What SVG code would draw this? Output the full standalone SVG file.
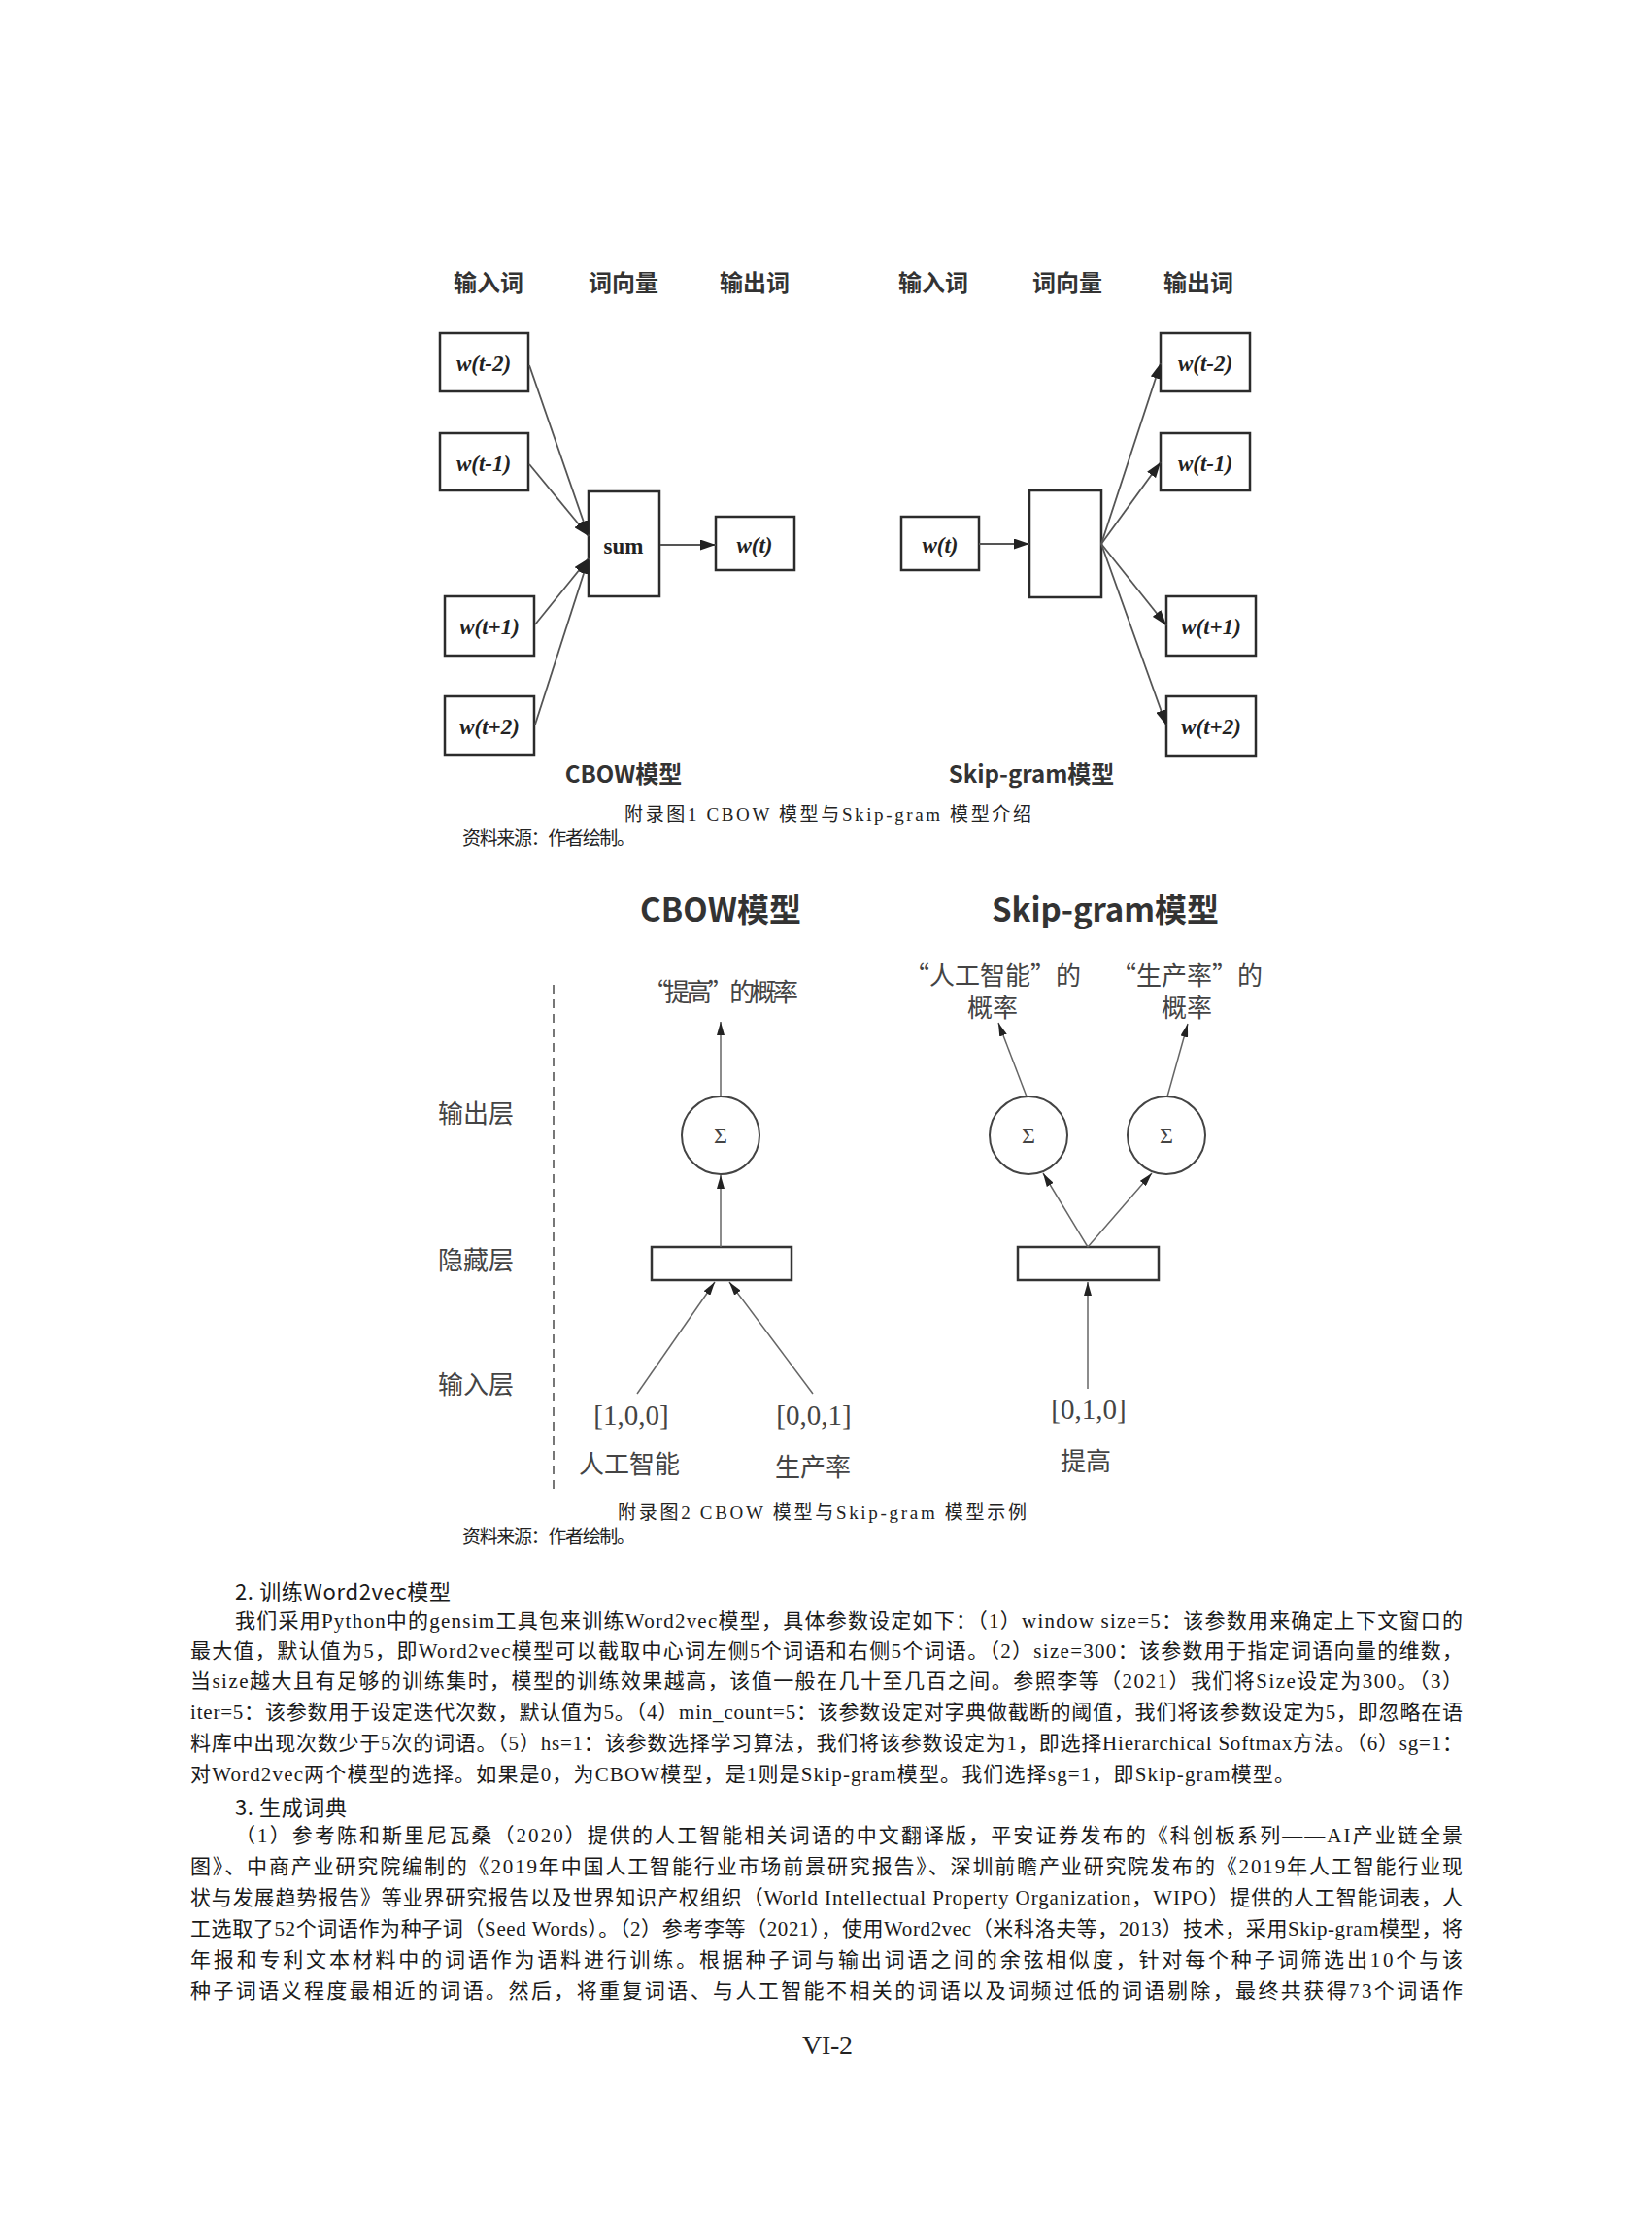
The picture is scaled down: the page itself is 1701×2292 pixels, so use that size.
<svg xmlns="http://www.w3.org/2000/svg" width="1701" height="2292" viewBox="0 0 1701 2292">
<style>
.hdr{font-family:"Noto Sans CJK SC","Noto Sans",sans-serif;font-weight:bold;font-size:24px;fill:#333;text-anchor:middle;dominant-baseline:central}
.lbl1{font-family:"Noto Sans CJK SC","Noto Sans",sans-serif;font-weight:bold;font-size:24px;fill:#333;text-anchor:middle;dominant-baseline:central}
.box{fill:#fff;stroke:#2b2b2b;stroke-width:2.5}
.w{font-family:"Liberation Serif",serif;font-weight:bold;font-style:italic;font-size:23px;fill:#222;text-anchor:middle;dominant-baseline:central}
.sum{font-family:"Liberation Serif",serif;font-weight:bold;font-size:23px;fill:#222;text-anchor:middle;dominant-baseline:central}
.c1{stroke:#555;stroke-width:1.8;fill:none;marker-end:url(#a1)}
.c2{stroke:#666;stroke-width:1.5;fill:none;marker-end:url(#a2)}
.t2{font-family:"Noto Sans CJK SC",sans-serif;font-size:26px;fill:#444;text-anchor:middle;dominant-baseline:central}
.vec{font-family:"Liberation Serif",serif;font-size:29px;fill:#444;text-anchor:middle;dominant-baseline:central}
.sig{font-family:"Liberation Serif",serif;font-size:24px;fill:#444;text-anchor:middle;dominant-baseline:central}
.ttl{font-family:"Noto Sans CJK SC","Noto Sans",sans-serif;font-weight:bold;font-size:33px;fill:#333;text-anchor:middle;dominant-baseline:central}
.circ{fill:#fff;stroke:#444;stroke-width:2}
.hid{fill:#fff;stroke:#333;stroke-width:2.5}
.cap{font-family:"Liberation Serif","Noto Sans CJK SC",serif;font-size:19px;fill:#222;dominant-baseline:central}
.body{font-family:"Liberation Serif","Noto Sans CJK SC",serif;font-size:21px;fill:#1a1a1a;dominant-baseline:central}
.h{font-family:"Noto Sans CJK SC",sans-serif;font-size:22px;fill:#1a1a1a;dominant-baseline:central}
.pg{font-family:"Liberation Serif",serif;font-size:28px;fill:#222;text-anchor:middle;dominant-baseline:central}
</style>
<defs>
<marker id="a1" markerUnits="userSpaceOnUse" markerWidth="16" markerHeight="11" refX="16" refY="5.5" orient="auto"><path d="M0,0 L16,5.5 L0,11 z" fill="#222"/></marker>
<marker id="a2" markerUnits="userSpaceOnUse" markerWidth="14" markerHeight="8" refX="14" refY="4" orient="auto"><path d="M0,0 L14,4 L0,8 z" fill="#222"/></marker>
</defs>
<rect width="1701" height="2292" fill="#fff"/>

<!-- Figure 1 headers -->
<g id="fig1-headers">
<text class="hdr" x="503" y="289">输入词</text>
<text class="hdr" x="642" y="289">词向量</text>
<text class="hdr" x="777" y="289">输出词</text>
<text class="hdr" x="961" y="289">输入词</text>
<text class="hdr" x="1099" y="289">词向量</text>
<text class="hdr" x="1234" y="289">输出词</text>
</g>

<!-- Figure 1 CBOW nodes -->
<g id="cbow-wt-2"><rect class="box" x="453" y="343" width="91" height="60"/><text class="w" x="498" y="374">w(t-2)</text></g>
<g id="cbow-wt-1"><rect class="box" x="453" y="446" width="91" height="59"/><text class="w" x="498" y="477">w(t-1)</text></g>
<g id="cbow-sum"><rect class="box" x="606" y="506" width="73" height="108"/><text class="sum" x="642" y="562">sum</text></g>
<g id="cbow-wt"><rect class="box" x="737" y="532" width="81" height="55"/><text class="w" x="777" y="561">w(t)</text></g>
<g id="cbow-wt+1"><rect class="box" x="458" y="614" width="92" height="61"/><text class="w" x="504" y="645">w(t+1)</text></g>
<g id="cbow-wt+2"><rect class="box" x="458" y="717" width="92" height="60"/><text class="w" x="504" y="748">w(t+2)</text></g>
<g id="cbow-label"><text class="lbl1" x="642" y="795">CBOW模型</text></g>

<!-- Figure 1 Skip-gram nodes -->
<g id="sg-wt"><rect class="box" x="928" y="532" width="80" height="55"/><text class="w" x="968" y="561">w(t)</text></g>
<g id="sg-vec"><rect class="box" x="1060" y="505" width="74" height="110"/></g>
<g id="sg-wt-2"><rect class="box" x="1195" y="343" width="92" height="60"/><text class="w" x="1241" y="374">w(t-2)</text></g>
<g id="sg-wt-1"><rect class="box" x="1195" y="446" width="92" height="59"/><text class="w" x="1241" y="477">w(t-1)</text></g>
<g id="sg-wt+1"><rect class="box" x="1201" y="614" width="92" height="61"/><text class="w" x="1247" y="645">w(t+1)</text></g>
<g id="sg-wt+2"><rect class="box" x="1201" y="717" width="92" height="61"/><text class="w" x="1247" y="748">w(t+2)</text></g>
<g id="sg-label"><text class="lbl1" x="1062" y="795">Skip-gram模型</text></g>

<!-- Figure 1 connectors -->
<g id="fig1-connectors">
<line class="c1" x1="545" y1="376" x2="606" y2="552"/>
<line class="c1" x1="545" y1="478" x2="606" y2="552"/>
<line class="c1" x1="551" y1="643" x2="606" y2="575"/>
<line class="c1" x1="551" y1="746" x2="606" y2="575"/>
<line class="c1" x1="680" y1="561" x2="737" y2="561"/>
<line class="c1" x1="1008" y1="560" x2="1060" y2="560"/>
<line class="c1" x1="1134" y1="560" x2="1195" y2="374"/>
<line class="c1" x1="1134" y1="560" x2="1195" y2="476"/>
<line class="c1" x1="1134" y1="560" x2="1201" y2="644"/>
<line class="c1" x1="1134" y1="560" x2="1201" y2="747"/>
</g>

<!-- Caption 1 -->
<g id="caption1">
<text class="cap" x="643" y="838" textLength="419">附录图1  CBOW 模型与Skip-gram 模型介绍</text>
<text class="cap" x="476" y="863" textLength="178">资料来源：作者绘制。</text>
</g>

<!-- Figure 2 -->
<g id="fig2-titles">
<text class="ttl" x="742" y="935" textLength="166">CBOW模型</text>
<text class="ttl" x="1138" y="935" textLength="234">Skip-gram模型</text>
</g>
<g id="fig2-divider"><line x1="570" y1="1014" x2="570" y2="1534" stroke="#555" stroke-width="1.6" stroke-dasharray="9,6"/></g>
<g id="layer-labels">
<text class="t2" x="490" y="1144">输出层</text>
<text class="t2" x="490" y="1295">隐藏层</text>
<text class="t2" x="490" y="1423">输入层</text>
</g>
<g id="cbow2-out-label"><text class="t2" x="742" y="1019" textLength="160">“提高”的概率</text></g>
<g id="cbow2-sigma"><circle class="circ" cx="742" cy="1169" r="40"/><text class="sig" x="742" y="1169">Σ</text></g>
<g id="cbow2-hidden"><rect class="hid" x="671" y="1284" width="144" height="34"/></g>
<g id="cbow2-in1"><text class="vec" x="650" y="1457">[1,0,0]</text><text class="t2" x="648" y="1505">人工智能</text></g>
<g id="cbow2-in2"><text class="vec" x="838" y="1457">[0,0,1]</text><text class="t2" x="837" y="1508">生产率</text></g>

<g id="sg2-out1-label"><text class="t2" x="1022" y="1002">“人工智能”的</text><text class="t2" x="1022" y="1035">概率</text></g>
<g id="sg2-out2-label"><text class="t2" x="1222" y="1002">“生产率”的</text><text class="t2" x="1222" y="1035">概率</text></g>
<g id="sg2-sigma1"><circle class="circ" cx="1059" cy="1169" r="40"/><text class="sig" x="1059" y="1169">Σ</text></g>
<g id="sg2-sigma2"><circle class="circ" cx="1201" cy="1169" r="40"/><text class="sig" x="1201" y="1169">Σ</text></g>
<g id="sg2-hidden"><rect class="hid" x="1048" y="1284" width="145" height="34"/></g>
<g id="sg2-in"><text class="vec" x="1121" y="1451">[0,1,0]</text><text class="t2" x="1118" y="1502">提高</text></g>

<g id="fig2-connectors">
<line class="c2" x1="742" y1="1129" x2="742" y2="1052"/>
<line class="c2" x1="742" y1="1284" x2="742" y2="1210"/>
<line class="c2" x1="656" y1="1435" x2="736" y2="1320"/>
<line class="c2" x1="837" y1="1435" x2="751" y2="1320"/>
<line class="c2" x1="1057" y1="1129" x2="1028" y2="1053"/>
<line class="c2" x1="1202" y1="1129" x2="1223" y2="1054"/>
<line class="c2" x1="1120" y1="1284" x2="1074" y2="1208"/>
<line class="c2" x1="1120" y1="1284" x2="1186" y2="1208"/>
<line class="c2" x1="1120" y1="1430" x2="1120" y2="1320"/>
</g>

<!-- Caption 2 -->
<g id="caption2">
<text class="cap" x="636" y="1557" textLength="421">附录图2  CBOW 模型与Skip-gram 模型示例</text>
<text class="cap" x="476" y="1582" textLength="178">资料来源：作者绘制。</text>
</g>

<!-- Body text -->
<g id="body-text">
<text class="h" x="242" y="1637" textLength="222">2. 训练Word2vec模型</text>
<text class="body" x="242" y="1669" textLength="1264">我们采用Python中的gensim工具包来训练Word2vec模型，具体参数设定如下：（1）window size=5：该参数用来确定上下文窗口的</text>
<text class="body" x="196" y="1700" textLength="1310">最大值，默认值为5，即Word2vec模型可以截取中心词左侧5个词语和右侧5个词语。（2）size=300：该参数用于指定词语向量的维数，</text>
<text class="body" x="196" y="1731" textLength="1310">当size越大且有足够的训练集时，模型的训练效果越高，该值一般在几十至几百之间。参照李等（2021）我们将Size设定为300。（3）</text>
<text class="body" x="196" y="1763" textLength="1310">iter=5：该参数用于设定迭代次数，默认值为5。（4）min_count=5：该参数设定对字典做截断的阈值，我们将该参数设定为5，即忽略在语</text>
<text class="body" x="196" y="1795" textLength="1310">料库中出现次数少于5次的词语。（5）hs=1：该参数选择学习算法，我们将该参数设定为1，即选择Hierarchical Softmax方法。（6）sg=1：</text>
<text class="body" x="196" y="1827" textLength="1137">对Word2vec两个模型的选择。如果是0，为CBOW模型，是1则是Skip-gram模型。我们选择sg=1，即Skip-gram模型。</text>
<text class="h" x="242" y="1859" textLength="115">3. 生成词典</text>
<text class="body" x="242" y="1890" textLength="1264">（1）参考陈和斯里尼瓦桑（2020）提供的人工智能相关词语的中文翻译版，平安证券发布的《科创板系列——AI产业链全景</text>
<text class="body" x="196" y="1922" textLength="1310">图》、中商产业研究院编制的《2019年中国人工智能行业市场前景研究报告》、深圳前瞻产业研究院发布的《2019年人工智能行业现</text>
<text class="body" x="196" y="1954" textLength="1310">状与发展趋势报告》等业界研究报告以及世界知识产权组织（World Intellectual Property Organization，WIPO）提供的人工智能词表，人</text>
<text class="body" x="196" y="1986" textLength="1310">工选取了52个词语作为种子词（Seed Words）。（2）参考李等（2021），使用Word2vec（米科洛夫等，2013）技术，采用Skip-gram模型，将</text>
<text class="body" x="196" y="2018" textLength="1310">年报和专利文本材料中的词语作为语料进行训练。根据种子词与输出词语之间的余弦相似度，针对每个种子词筛选出10个与该</text>
<text class="body" x="196" y="2050" textLength="1310">种子词语义程度最相近的词语。然后，将重复词语、与人工智能不相关的词语以及词频过低的词语剔除，最终共获得73个词语作</text>
</g>
<g id="page-number"><text class="pg" x="852" y="2105" textLength="52">VI-2</text></g>
</svg>
